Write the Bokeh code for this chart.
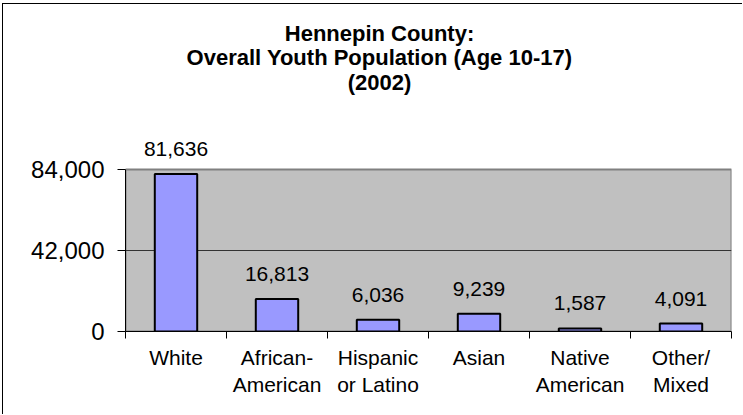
from bokeh.plotting import figure
from bokeh.models import (ColumnDataSource, FixedTicker, LinearAxis, Range1d,
                          LabelSet, Label, NumeralTickFormatter)
from bokeh.core.properties import value
from bokeh.embed import file_html
from bokeh.resources import INLINE

# ---- data ----
title_lines = ["Hennepin County:", "Overall Youth Population (Age 10-17)", "(2002)"]
categories = ["White", "African-\nAmerican", "Hispanic\nor Latino", "Asian",
              "Native\nAmerican", "Other/\nMixed"]
values = [81636, 16813, 6036, 9239, 1587, 4091]
y_ticks = [0, 42000, 84000]

FONT = "Liberation Sans"
FRAME_H = 327      # px, frame from top of figure down to the category axis
PLOT_H = 162       # px, height of the grey plotting area (0 .. 84,000)

n = len(categories)
xs = [i + 0.5 for i in range(n)]
boundaries = list(range(n + 1))
labels = [f"{v:,}" for v in values]
src = ColumnDataSource(dict(x=xs, top=values, label=labels))

p = figure(width=740, height=411,
           x_range=Range1d(0, n),
           y_range=Range1d(y_ticks[0], y_ticks[-1] * FRAME_H / PLOT_H),
           output_backend="svg", toolbar_location=None,
           x_axis_type=None, y_axis_type=None,
           min_border_left=122, min_border_right=12,
           min_border_top=0, min_border_bottom=84)

p.background_fill_color = "white"
p.border_fill_color = "white"
p.outline_line_color = None
p.styles = {"margin-left": "2px", "margin-top": "3px",
            "border-left": "1px solid black", "border-top": "1px solid black"}

# grey plotting area 0 .. 84,000
p.quad(left=[boundaries[0]], right=[boundaries[-1]],
       bottom=[y_ticks[0]], top=[y_ticks[-1]],
       fill_color="#C0C0C0", line_color="#808080", line_width=2)

# horizontal gridline(s)
inner = y_ticks[1:-1]
p.segment(x0=[boundaries[0]] * len(inner), x1=[boundaries[-1]] * len(inner),
          y0=inner, y1=inner, line_color="#333333", line_width=1)

# y axis
yaxis = LinearAxis(ticker=FixedTicker(ticks=y_ticks, minor_ticks=[]),
                   formatter=NumeralTickFormatter(format="0,0"),
                   bounds=(y_ticks[0], y_ticks[-1]))
yaxis.axis_line_color = "black"
yaxis.major_tick_out = 8
yaxis.major_tick_in = 0
yaxis.major_tick_line_color = "black"
yaxis.major_label_standoff = 13
yaxis.major_label_text_font = FONT
yaxis.major_label_text_font_size = "24px"
yaxis.major_label_text_color = "black"
p.add_layout(yaxis, "left")

# x axis: labels centred, ticks at category boundaries
xaxis = LinearAxis(ticker=FixedTicker(ticks=xs, minor_ticks=boundaries))
xaxis.major_label_overrides = {x: c for x, c in zip(xs, categories)}
xaxis.axis_line_color = "black"
xaxis.major_tick_out = 0
xaxis.major_tick_in = 0
xaxis.minor_tick_out = 7
xaxis.minor_tick_in = 0
xaxis.minor_tick_line_color = "black"
xaxis.major_label_standoff = 7
xaxis.major_label_text_font = FONT
xaxis.major_label_text_font_size = "21px"
xaxis.major_label_text_color = "black"
p.add_layout(xaxis, "below")

p.vbar(x="x", top="top", bottom=0, width=0.42, source=src,
       fill_color="#9999FF", line_color="black", line_width=2)

p.add_layout(LabelSet(x="x", y="top", text="label", source=src,
                      text_align="center", text_baseline="alphabetic",
                      y_offset=18, text_font=value(FONT), text_font_size="21px",
                      text_color="black"))

for line, yb in zip(title_lines, [298, 274, 249]):
    p.add_layout(Label(x=254, y=yb, x_units="screen", y_units="screen",
                       text=line, text_align="center",
                       text_baseline="alphabetic", text_font=FONT,
                       text_font_style="bold", text_font_size="22px",
                       text_color="black"))

open("out.html", "w").write(file_html(p, INLINE))
